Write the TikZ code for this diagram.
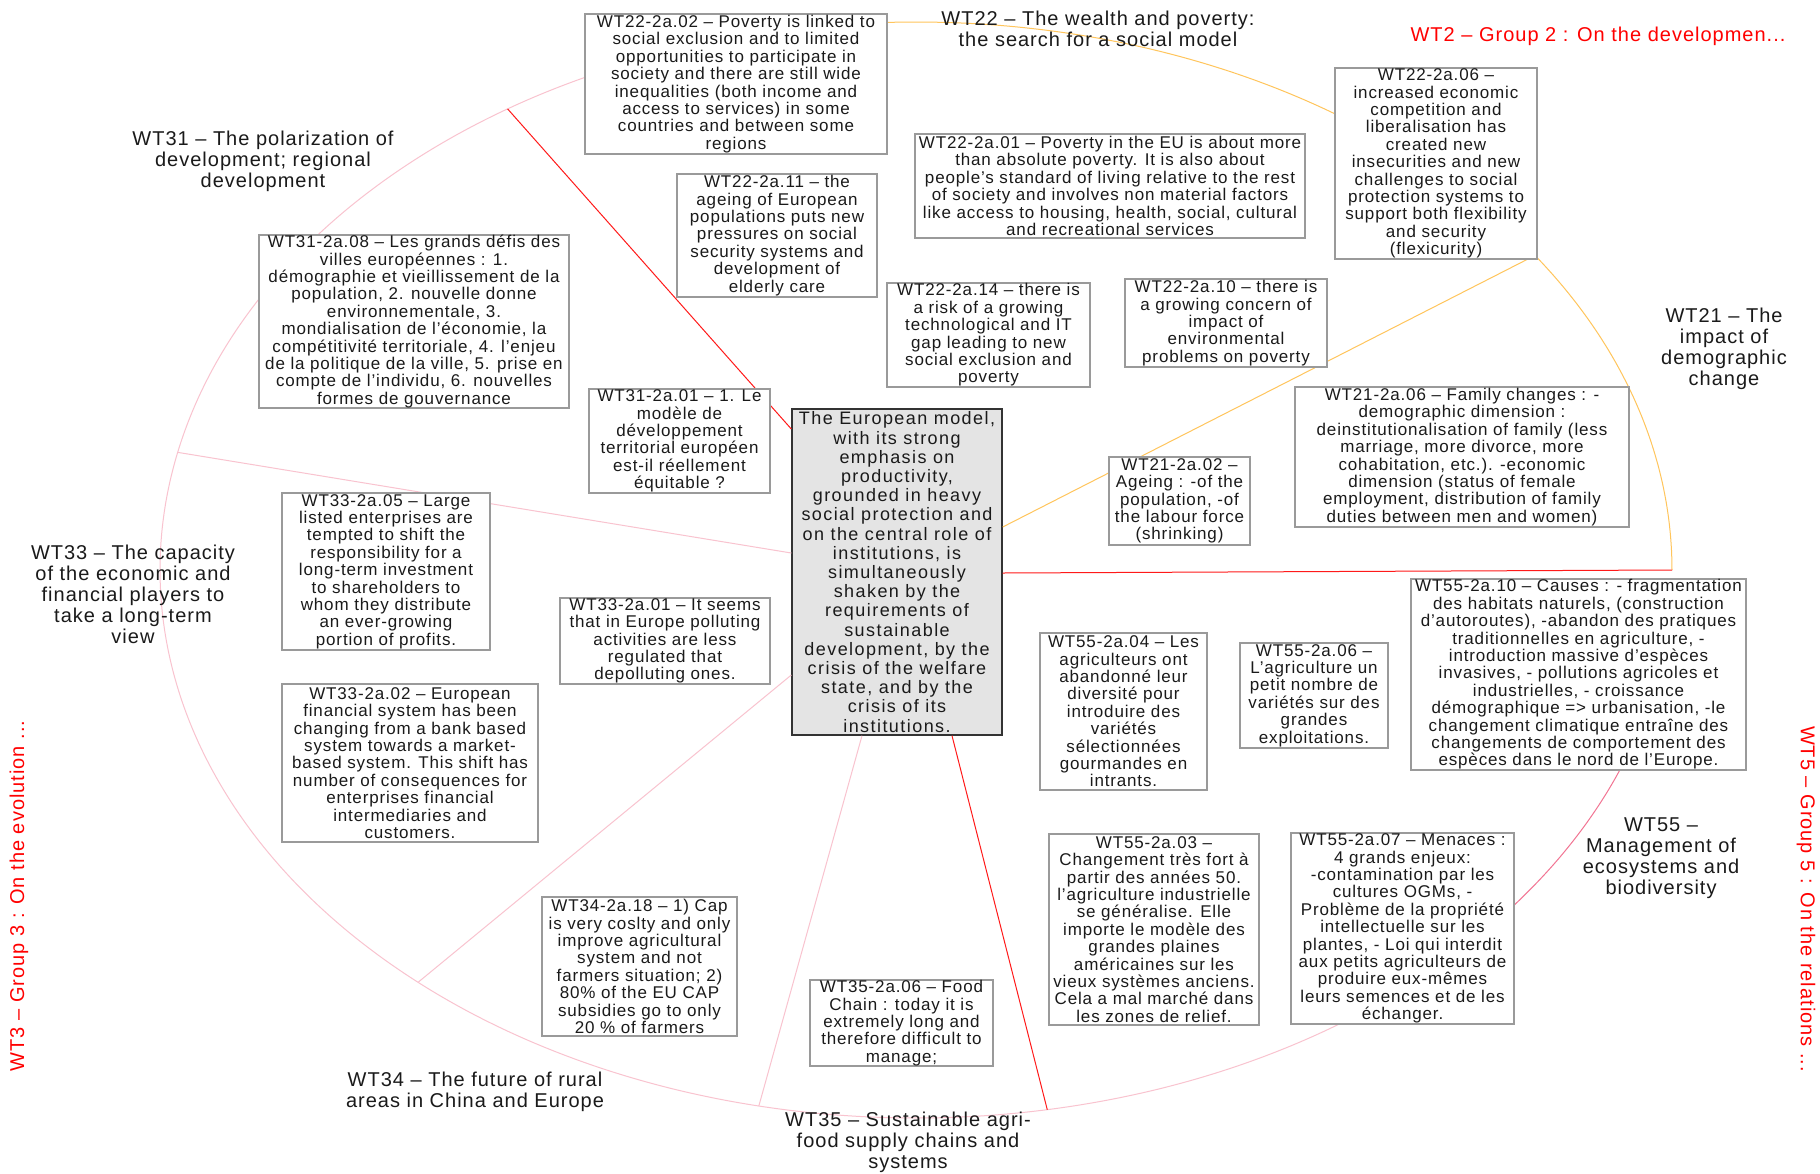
\documentclass[tikz,border=0pt]{standalone}
\usepackage{fontspec}
\setmainfont{Liberation Sans}
\newfontfamily\bxf{Liberation Sans}[LetterSpace=5]
\newfontfamily\cxf{Liberation Sans}[LetterSpace=8]
\newfontfamily\lbf{Liberation Sans}[LetterSpace=5]
\definecolor{lpink}{HTML}{F9C3CF}
\definecolor{mpink}{HTML}{F27593}
\definecolor{lorange}{HTML}{FFC55C}
\definecolor{lred}{HTML}{FF1A1A}
\definecolor{boxgray}{HTML}{9A9A9A}
\definecolor{cfill}{HTML}{E4E4E4}
\definecolor{txt}{HTML}{1A1A1A}
\begin{document}
\begin{tikzpicture}[x=0.5pt,y=-0.5pt,
  sz/.style 2 args={minimum width=#1*0.5pt, minimum height=#2*0.5pt},
  tb/.style={draw=boxgray, line width=0.6pt, fill=white, inner sep=0pt, align=center,
    font=\bxf\fontsize{8.5}{8.7}\selectfont, text=txt},
  cb/.style={draw=black!80, line width=0.7pt, fill=cfill, inner sep=0pt, align=center,
    font=\cxf\fontsize{9}{9.6}\selectfont, text=txt},
  lbl/.style={inner sep=0pt, align=center, font=\lbf\fontsize{10}{10.5}\selectfont, text=txt},
  grp/.style={inner sep=0pt, font=\lbf\fontsize{10}{12}\selectfont, text=red},
  pinkln/.style={draw=lpink, line width=0.5pt},
  redln/.style={draw=lred, line width=0.5pt},
  orln/.style={draw=lorange, line width=0.5pt},
  mpln/.style={draw=mpink, line width=0.5pt}]
\useasboundingbox (0,0) rectangle (1820,1173);
\fill[white] (0,0) rectangle (1820,1173);

% ellipse arcs
\draw[pinkln] plot[domain=50:260, samples=200, smooth] ({916+756*cos(\x)},{570+548*sin(\x)});
\draw[orln] plot[domain=265:305, samples=60, smooth] ({916+756*cos(\x)},{570+548*sin(\x)});
\draw[orln] plot[domain=322:360, samples=60, smooth] ({916+756*cos(\x)},{570+548*sin(\x)});
\draw[mpln] plot[domain=2:50, samples=60, smooth] ({916+756*cos(\x)},{570+548*sin(\x)});

% points on ellipse
\coordinate (e237) at ({916+756*cos(237.3)},{570+548*sin(237.3)});
\coordinate (e192) at ({916+756*cos(192.4)},{570+548*sin(192.4)});
\coordinate (e131) at ({916+756*cos(131.2)},{570+548*sin(131.2)});
\coordinate (e102) at ({916+756*cos(102)},{570+548*sin(102)});
\coordinate (e80) at ({916+756*cos(80)},{570+548*sin(80)});
\coordinate (e0) at ({916+756*cos(0)},{570+548*sin(0)});
\coordinate (e325) at (1528,259);

% central node
\node[cb, sz={210}{326}] (c) at (897,572) {The European model,\\with its strong\\emphasis on\\productivity,\\grounded in heavy\\social protection and\\on the central role of\\institutions, is\\simultaneously\\shaken by the\\requirements of\\sustainable\\development, by the\\crisis of the welfare\\state, and by the\\crisis of its\\institutions.};

% connectors
\draw[redln] (c.west |- 0,429) -- (e237);
\draw[pinkln] (c.west |- 0,553) -- (e192);
\draw[pinkln] (c.west |- 0,675) -- (e131);
\draw[pinkln] (c.south -| 862,0) -- (e102);
\draw[redln] (c.south -| 952,0) -- (e80);
\draw[redln] (c.east |- 0,573) -- (e0);
\draw[orln] (c.east |- 0,527) -- (e325);

% boxes
\node[tb, sz={302}{140}] (b2202) at (736,84) {WT22-2a.02 – Poverty is linked to\\social exclusion and to limited\\opportunities to participate in\\society and there are still wide\\inequalities (both income and\\access to services) in some\\countries and between some\\regions};
\node[tb, sz={390}{104}] (b2201) at (1110,186) {WT22-2a.01 – Poverty in the EU is about more\\than absolute poverty. It is also about\\people’s standard of living relative to the rest\\of society and involves non material factors\\like access to housing, health, social, cultural\\and recreational services};
\node[tb, sz={202}{191}] (b2206) at (1436,163.5) {WT22-2a.06 –\\increased economic\\competition and\\liberalisation has\\created new\\insecurities and new\\challenges to social\\protection systems to\\support both flexibility\\and security\\(flexicurity)};
\node[tb, sz={200}{123}] (b2211) at (777,235.5) {WT22-2a.11 – the\\ageing of European\\populations puts new\\pressures on social\\security systems and\\development of\\elderly care};
\node[tb, sz={203}{104}] (b2214) at (988.5,335) {WT22-2a.14 – there is\\a risk of a growing\\technological and IT\\gap leading to new\\social exclusion and\\poverty};
\node[tb, sz={202}{88}] (b2210) at (1226,323) {WT22-2a.10 – there is\\a growing concern of\\impact of\\environmental\\problems on poverty};
\node[tb, sz={310}{173}] (b3108) at (414,321.5) {WT31-2a.08 – Les grands défis des\\villes européennes : 1.\\démographie et vieillissement de la\\population, 2. nouvelle donne\\environnementale, 3.\\mondialisation de l’économie, la\\compétitivité territoriale, 4. l’enjeu\\de la politique de la ville, 5. prise en\\compte de l’individu, 6. nouvelles\\formes de gouvernance};
\node[tb, sz={181}{104}] (b3101) at (679.5,441) {WT31-2a.01 – 1. Le\\modèle de\\développement\\territorial européen\\est-il réellement\\équitable ?};
\node[tb, sz={141}{88}] (b2102) at (1179.5,501) {WT21-2a.02 –\\Ageing : -of the\\population, -of\\the labour force\\(shrinking)};
\node[tb, sz={334}{140}] (b2106) at (1462,457) {WT21-2a.06 – Family changes : -\\demographic dimension :\\deinstitutionalisation of family (less\\marriage, more divorce, more\\cohabitation, etc.). -economic\\dimension (status of female\\employment, distribution of family\\duties between men and women)};
\node[tb, sz={208}{157}] (b3305) at (386,571.5) {WT33-2a.05 – Large\\listed enterprises are\\tempted to shift the\\responsibility for a\\long-term investment\\to shareholders to\\whom they distribute\\an ever-growing\\portion of profits.};
\node[tb, sz={210}{86}] (b3301) at (665,641) {WT33-2a.01 – It seems\\that in Europe polluting\\activities are less\\regulated that\\depolluting ones.};
\node[tb, sz={256}{158}] (b3302) at (410,763) {WT33-2a.02 – European\\financial system has been\\changing from a bank based\\system towards a market-\\based system. This shift has\\number of consequences for\\enterprises financial\\intermediaries and\\customers.};
\node[tb, sz={167}{157}] (b5504) at (1123.5,711.5) {WT55-2a.04 – Les\\agriculteurs ont\\abandonné leur\\diversité pour\\introduire des\\variétés\\sélectionnées\\gourmandes en\\intrants.};
\node[tb, sz={148}{105}] (b5506) at (1314,695.5) {WT55-2a.06 –\\L’agriculture un\\petit nombre de\\variétés sur des\\grandes\\exploitations.};
\node[tb, sz={335}{191}] (b5510) at (1578.5,674.5) {WT55-2a.10 – Causes : - fragmentation\\des habitats naturels, (construction\\d’autoroutes), -abandon des pratiques\\traditionnelles en agriculture, -\\introduction massive d’espèces\\invasives, - pollutions agricoles et\\industrielles, - croissance\\démographique => urbanisation, -le\\changement climatique entraîne des\\changements de comportement des\\espèces dans le nord de l’Europe.};
\node[tb, sz={210}{191}] (b5503) at (1154,929.5) {WT55-2a.03 –\\Changement très fort à\\partir des années 50.\\l’agriculture industrielle\\se généralise. Elle\\importe le modèle des\\grandes plaines\\américaines sur les\\vieux systèmes anciens.\\Cela a mal marché dans\\les zones de relief.};
\node[tb, sz={223}{191}] (b5507) at (1402.5,928.5) {WT55-2a.07 – Menaces :\\4 grands enjeux:\\-contamination par les\\cultures OGMs, -\\Problème de la propriété\\intellectuelle sur les\\plantes, - Loi qui interdit\\aux petits agriculteurs de\\produire eux-mêmes\\leurs semences et de les\\échanger.};
\node[tb, sz={195}{139}] (b3418) at (639.5,966.5) {WT34-2a.18 – 1) Cap\\is very coslty and only\\improve agricultural\\system and not\\farmers situation; 2)\\80\% of the EU CAP\\subsidies go to only\\20 \% of farmers};
\node[tb, sz={183}{86}] (b3506) at (901.5,1023) {WT35-2a.06 – Food\\Chain : today it is\\extremely long and\\therefore difficult to\\manage;};

% theme labels
\node[lbl] (l22) at (1098,29) {WT22 – The wealth and poverty:\\the search for a social model};
\node[lbl] (l31) at (263,161) {WT31 – The polarization of\\development; regional\\development};
\node[lbl] (l21) at (1724,349) {WT21 – The\\impact of\\demographic\\change};
\node[lbl] (l33) at (133,594) {WT33 – The capacity\\of the economic and\\financial players to\\take a long-term\\view};
\node[lbl] (l34) at (475,1092) {WT34 – The future of rural\\areas in China and Europe};
\node[lbl] (l35) at (908,1142) {WT35 – Sustainable agri-\\food supply chains and\\systems};
\node[lbl] (l55) at (1661,858) {WT55 –\\Management of\\ecosystems and\\biodiversity};

% group labels
\node[grp] (g2) at (1598,36) {WT2 – Group 2 : On the developmen...};
\node[grp, rotate=-90] (g5) at (1806,899) {WT5 – Group 5 : On the relations ...};
\node[grp, rotate=90] (g3) at (19,896) {WT3 – Group 3 : On the evolution ...};
\end{tikzpicture}
\end{document}
